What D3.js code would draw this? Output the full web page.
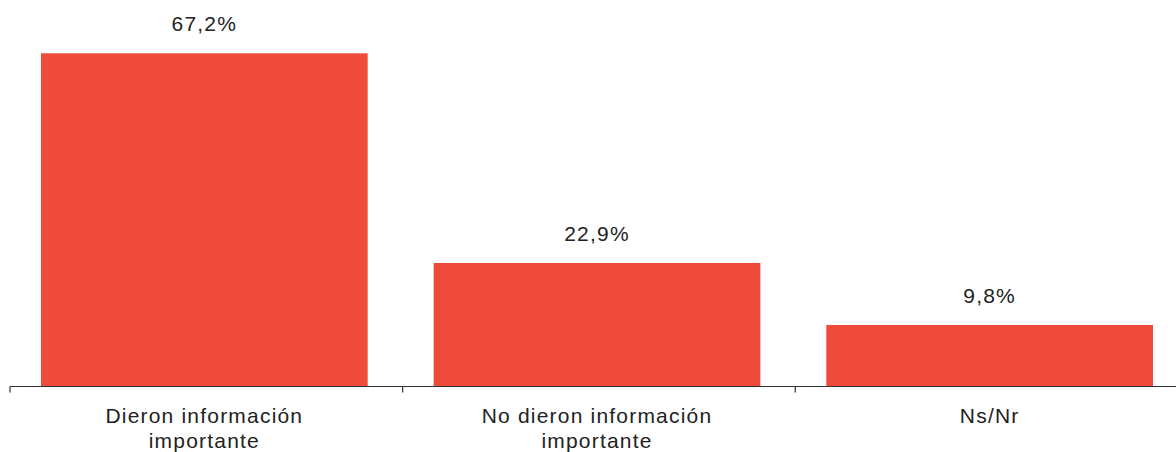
<!DOCTYPE html>
<html><head><meta charset="utf-8">
<script src="https://cdn.jsdelivr.net/npm/d3@7"></script>
<style>body{margin:0;background:#fff}text{font-family:"Liberation Sans",Arial,sans-serif}</style>
</head><body>
<svg id="c" width="1176" height="452"></svg>
<script>
const categories = [["Dieron información","importante"],["No dieron información","importante"],["Ns/Nr"]];
const values = [67.2, 22.9, 9.8];
const valueLabels = ["67,2%","22,9%","9,8%"];

const svg = d3.select("#c");
const keys = categories.map((c,i)=>String(i));
const x = d3.scaleBand().domain(keys).range([41, 1153]).paddingInner(0.168).paddingOuter(0);
const y = d3.scaleLinear().domain([-3.2, 67.2]).range([386.5, 53.3]);
const y0 = y.range()[0];

svg.selectAll("rect.bar").data(values).join("rect")
  .attr("class","bar")
  .attr("x",(d,i)=>x(keys[i]))
  .attr("width",x.bandwidth())
  .attr("y",d=>y(d))
  .attr("height",d=>y0 - y(d))
  .attr("fill","#ef4b3b");

svg.selectAll("text.val").data(values).join("text")
  .attr("class","val")
  .attr("x",(d,i)=>x(keys[i]) + x.bandwidth()/2)
  .attr("y",d=>y(d) - 22)
  .attr("text-anchor","middle")
  .attr("font-size",21)
  .attr("letter-spacing","1.2px")
  .attr("fill","#222")
  .text((d,i)=>valueLabels[i]);

// axis
const g = svg.append("g");
g.append("line").attr("x1",10).attr("x2",1176).attr("y1",y0).attr("y2",y0)
  .attr("stroke","#333").attr("stroke-width",1.2);
const boundaries = keys.map(k=>x(k) - x.step()*0.079);
g.selectAll("line.tick").data(boundaries).join("line")
  .attr("class","tick")
  .attr("x1",d=>d).attr("x2",d=>d).attr("y1",y0).attr("y2",y0+6)
  .attr("stroke","#333").attr("stroke-width",1.2);

svg.selectAll("text.cat").data(categories).join("text")
  .attr("class","cat")
  .attr("x",(d,i)=>x(keys[i]) + x.bandwidth()/2)
  .attr("y",422.5)
  .attr("text-anchor","middle")
  .attr("font-size",21)
  .attr("letter-spacing","1.2px")
  .attr("fill","#222")
  .each(function(d){
    const t = d3.select(this);
    d.forEach((line,j)=>{
      t.append("tspan").attr("x",t.attr("x")).attr("dy", j===0?0:25.5).text(line);
    });
  });
</script>
</body></html>
